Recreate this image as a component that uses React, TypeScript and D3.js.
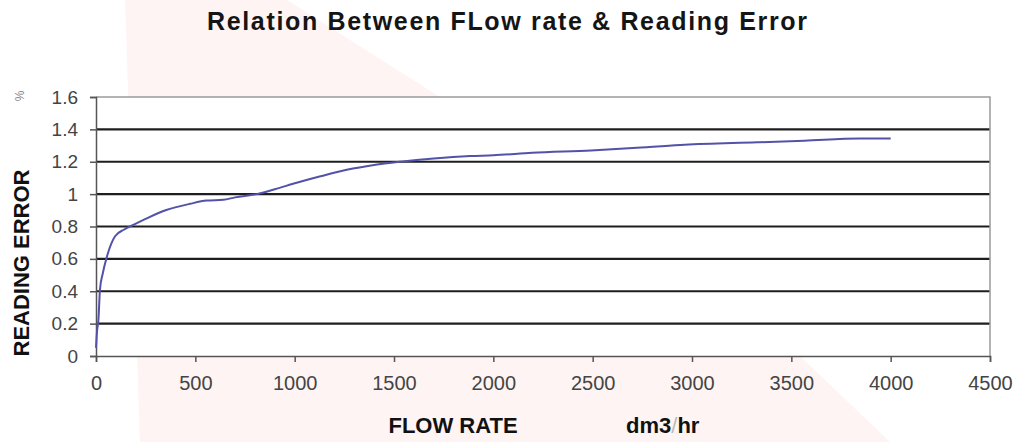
import React, { useEffect, useRef } from "react";
import * as d3 from "d3";

// values
const flowRate = [0, 5, 12, 20, 34, 54, 96, 140, 188, 255, 350, 473, 557, 641, 700, 809, 900, 1010, 1130, 1262, 1400, 1531, 1700, 1883, 2000, 2195, 2492, 2772, 2963, 3328, 3565, 3842, 4000];
const readingError = [0.05, 0.15, 0.22, 0.41, 0.51, 0.61, 0.74, 0.78, 0.81, 0.85, 0.9, 0.94, 0.96, 0.965, 0.98, 1.0, 1.03, 1.07, 1.11, 1.15, 1.18, 1.2, 1.22, 1.235, 1.24, 1.255, 1.27, 1.29, 1.305, 1.32, 1.33, 1.344, 1.344];
const xTicks = [0, 500, 1000, 1500, 2000, 2500, 3000, 3500, 4000, 4500];
const yTicks = [0, 0.2, 0.4, 0.6, 0.8, 1, 1.2, 1.4, 1.6];

const W = 1016;
const H = 442;

const App: React.FC = () => {
  const svgRef = useRef<SVGSVGElement | null>(null);

  useEffect(() => {
    if (!svgRef.current) return;
    const svg = d3.select(svgRef.current);
    svg.selectAll("*").remove();

    const left = 96, right = 990, top = 97, bottom = 356;
    const x = d3.scaleLinear().domain([0, 4500]).range([left, right]);
    const y = d3.scaleLinear().domain([0, 1.6]).range([bottom, top]);
    const font = "Liberation Sans, Arial, sans-serif";

    svg.append("rect").attr("width", W).attr("height", H).attr("fill", "#fff");

    // faint watermark behind the chart
    svg.append("polygon")
      .attr("points", "125,0 287,0 440,97 800,356 890,442 140,442")
      .attr("fill", "#fef4f3");

    svg.append("rect")
      .attr("x", left).attr("y", top)
      .attr("width", right - left).attr("height", bottom - top)
      .attr("fill", "#fff");

    // gridlines
    svg.append("g")
      .selectAll("line")
      .data(yTicks.filter(t => t > 0 && t < 1.6))
      .join("line")
      .attr("x1", left).attr("x2", right)
      .attr("y1", d => y(d)).attr("y2", d => y(d))
      .attr("stroke", "#1e1e1e").attr("stroke-width", 2.2);

    // plot border top / right
    svg.append("path")
      .attr("d", `M${left},${y(1.6)}H${right}V${bottom}`)
      .attr("fill", "none").attr("stroke", "#9a9a9a").attr("stroke-width", 1.5);

    // y axis
    const yAxis = svg.append("g")
      .attr("transform", `translate(${left},0)`)
      .call(d3.axisLeft(y).tickValues(yTicks).tickSize(6).tickPadding(12).tickFormat(d => String(+d)));
    yAxis.select(".domain").attr("stroke", "#555").attr("stroke-width", 1.5);
    yAxis.selectAll(".tick line").attr("stroke", "#555").attr("stroke-width", 1.5);
    yAxis.selectAll("text").attr("font-family", font).attr("font-size", 19).attr("fill", "#444");

    // x axis
    const xAxis = svg.append("g")
      .attr("transform", `translate(0,${bottom})`)
      .call(d3.axisBottom(x).tickValues(xTicks).tickSize(6).tickPadding(14).tickFormat(d => String(d)));
    xAxis.select(".domain").attr("stroke", "#555").attr("stroke-width", 1.5);
    xAxis.selectAll(".tick line").attr("stroke", "#555").attr("stroke-width", 1.5);
    xAxis.selectAll("text").attr("font-family", font).attr("font-size", 20).attr("fill", "#444");

    // curve
    const pts = flowRate.map((f, i) => [f, readingError[i]] as [number, number]);
    const line = d3.line<[number, number]>()
      .x(d => x(d[0]))
      .y(d => y(d[1]))
      .curve(d3.curveMonotoneX);
    svg.append("path")
      .datum(pts)
      .attr("fill", "none")
      .attr("stroke", "#5252a8")
      .attr("stroke-width", 2)
      .attr("d", line);

    // title
    svg.append("text")
      .attr("x", 207).attr("y", 30)
      .attr("textLength", 600).attr("lengthAdjust", "spacing")
      .attr("font-family", font).attr("font-size", 25).attr("font-weight", "bold")
      .attr("fill", "#151515")
      .text("Relation Between FLow rate & Reading Error");

    // y title
    svg.append("text")
      .attr("transform", `translate(29,263) rotate(-90)`)
      .attr("text-anchor", "middle")
      .attr("font-family", font).attr("font-size", 22).attr("font-weight", "bold")
      .attr("fill", "#111")
      .text("READING ERROR");

    svg.append("text")
      .attr("transform", `translate(24,96) rotate(-90)`)
      .attr("text-anchor", "middle")
      .attr("font-family", font).attr("font-size", 12)
      .attr("fill", "#888")
      .text("%");

    // x title
    svg.append("text")
      .attr("x", 453).attr("y", 433)
      .attr("text-anchor", "middle")
      .attr("font-family", font).attr("font-size", 22).attr("font-weight", "bold")
      .attr("fill", "#111")
      .text("FLOW RATE");

    const unit = svg.append("text")
      .attr("x", 626).attr("y", 433)
      .attr("font-family", font).attr("font-size", 22).attr("font-weight", "bold")
      .attr("fill", "#111");
    unit.append("tspan").text("dm3");
    unit.append("tspan").attr("fill", "#bbb").attr("font-weight", "normal").text("/");
    unit.append("tspan").text("hr");
  }, []);

  return (
    <div style={{ position: "absolute", left: 0, top: 0, width: W, height: H }}>
      <svg ref={svgRef} width={W} height={H}></svg>
    </div>
  );
};

export default App;
